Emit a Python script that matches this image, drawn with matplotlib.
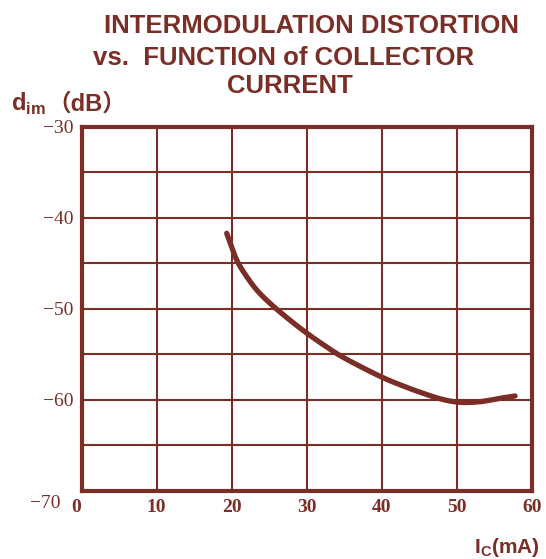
import matplotlib
matplotlib.use("Agg")
import matplotlib.pyplot as plt
import matplotlib.transforms as mtransforms
import numpy as np

# Data
ic_ma = [19.35, 20.23, 20.90, 22.02, 23.35, 25.12, 28.23, 30.23, 31.79, 34.22, 37.12, 40.36,
         42.01, 45.11, 48.22, 50.44, 53.11, 55.78, 57.78]
dim_db = [-41.72, -43.74, -45.01, -46.48, -47.94, -49.40, -51.55, -52.80, -53.70, -55.02, -56.32,
          -57.63, -58.20, -59.16, -59.97, -60.27, -60.20, -59.83, -59.57]
x_ticks = [0, 10, 20, 30, 40, 50, 60]
y_ticks = [-30, -40, -50, -60, -70]
y_grid = [-35, -40, -45, -50, -55, -60, -65]
title_lines = ["INTERMODULATION DISTORTION", "vs.  FUNCTION of COLLECTOR", "CURRENT"]

C = "#7a2e26"
W, H = 546, 559
fig = plt.figure(figsize=(W / 100, H / 100), dpi=100)
ax = fig.add_axes([81.5 / W, 1 - 491 / H, (531.7 - 81.5) / W, (491 - 126.5) / H])
ax.set_xlim(0, 60)
ax.set_ylim(-70, -30)

for xv in x_ticks[1:-1]:
    ax.axvline(xv, color=C, lw=1.5, zorder=1)
for yv in y_grid:
    ax.axhline(yv, color=C, lw=1.5, zorder=1)


def centripetal_catmull(P, n=25, alpha=0.5):
    P = np.vstack([2 * P[0] - P[1], P, 2 * P[-1] - P[-2]])
    out = []
    for i in range(1, len(P) - 2):
        p0, p1, p2, p3 = P[i - 1], P[i], P[i + 1], P[i + 2]
        t0 = 0.0
        t1 = t0 + np.linalg.norm(p1 - p0) ** alpha
        t2 = t1 + np.linalg.norm(p2 - p1) ** alpha
        t3 = t2 + np.linalg.norm(p3 - p2) ** alpha
        for t in np.linspace(t1, t2, n, endpoint=False):
            a1 = (t1 - t) / (t1 - t0) * p0 + (t - t0) / (t1 - t0) * p1
            a2 = (t2 - t) / (t2 - t1) * p1 + (t - t1) / (t2 - t1) * p2
            a3 = (t3 - t) / (t3 - t2) * p2 + (t - t2) / (t3 - t2) * p3
            b1 = (t2 - t) / (t2 - t0) * a1 + (t - t0) / (t2 - t0) * a2
            b2 = (t3 - t) / (t3 - t1) * a2 + (t - t1) / (t3 - t1) * a3
            out.append((t2 - t) / (t2 - t1) * b1 + (t - t1) / (t2 - t1) * b2)
    out.append(P[-2])
    return np.array(out)


# smooth in display units so the spline spacing is isotropic
pts = ax.transData.transform(np.column_stack([ic_ma, dim_db]))
curve = ax.transData.inverted().transform(centripetal_catmull(pts))
ax.plot(curve[:, 0], curve[:, 1], color=C, lw=3.8, solid_capstyle="round", zorder=3)

for sp in ax.spines.values():
    sp.set_color(C)
    sp.set_linewidth(3.0)

ax.set_xticks(x_ticks)
ax.set_yticks(y_ticks)
ax.tick_params(length=0, colors=C, pad=6)
ax.set_xticklabels([str(v) for v in x_ticks], fontsize=14, family="Liberation Serif",
                   fontweight="bold", color=C)
ax.set_yticklabels(["\u2212%d" % abs(v) for v in y_ticks], fontsize=14, family="Liberation Serif",
                   color=C)
# lowest y label sits below the axis line, beside the "0"
ylabs = ax.get_yticklabels()
ylabs[-1].set_transform(ylabs[-1].get_transform()
                        + mtransforms.ScaledTranslation(-0.13, -0.11, fig.dpi_scale_trans))
xlabs = ax.get_xticklabels()
xlabs[0].set_transform(xlabs[0].get_transform()
                       + mtransforms.ScaledTranslation(-0.05, 0, fig.dpi_scale_trans))

# titles
for txt, cx, by in zip(title_lines, [311, 284, 290], [33, 65, 93]):
    fig.text(cx / W, 1 - by / H, txt, ha="center", va="baseline", fontsize=18.5,
             fontweight="bold", family="Liberation Sans", color=C)

fig.text(11 / W, 1 - 111 / H, "d$_{\\mathregular{im}}$", ha="left", va="baseline", fontsize=17,
         fontweight="bold", family=["Liberation Sans"], color=C)
fig.text(47 / W, 1 - 111 / H, "（dB）", ha="left", va="baseline", fontsize=17,
         fontweight="bold", family=["Liberation Sans", "Noto Sans CJK SC"], color=C)
fig.text(540 / W, 1 - 553 / H, "I$_{\\mathregular{C}}$(mA)", ha="right", va="baseline",
         fontsize=15, fontweight="bold", family="Liberation Sans", color=C)

fig.savefig("out.png", dpi=100, facecolor="white")
